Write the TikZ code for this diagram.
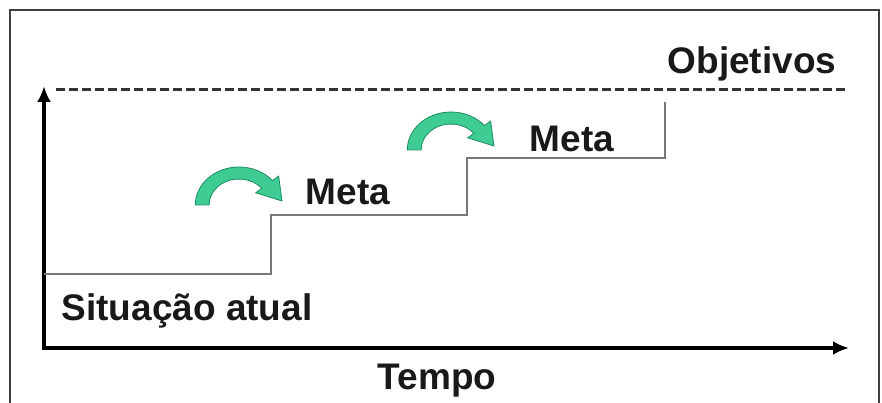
\documentclass[tikz,border=0pt]{standalone}
\usepackage{fontspec}
\setmainfont{Liberation Sans}
\usetikzlibrary{arrows.meta}
\definecolor{stepgray}{RGB}{120,120,120}
\definecolor{arrowgreen}{RGB}{62,204,148}
\definecolor{arrowedge}{RGB}{28,140,96}
\begin{document}
\begin{tikzpicture}[x=1pt,y=-1pt,
  label/.style={font=\fontsize{37}{40}\selectfont\bfseries,text=black!90,inner sep=0pt},
  axis/.style={black,line width=3.5pt,-{Latex[length=16pt,width=14pt]}},
  curvedarrow/.style={fill=arrowgreen,draw=arrowedge,line width=0.8pt}]
\useasboundingbox (0,0) rectangle (882,403);
\draw [black!75, line width=2pt] (10,10) rectangle (879,420);
% axes
\coordinate (origin) at (44,350);
\coordinate (ytop) at (44,86);
\coordinate (xleft) at (42,348);
\coordinate (xright) at (849,348);
\draw [axis] (origin) -- (ytop);
\draw [axis] (xleft) -- (xright);
% goal line
\coordinate (goalstart) at (56,90);
\coordinate (goalend) at (845,90);
\draw [black!80, line width=3pt, dash pattern=on 9pt off 4pt] (goalstart) -- (goalend);
% the steps
\draw [stepgray, line width=2pt] (44,274) -- (271,274) -- (271,215) -- (467,215)
  -- (467,158) -- (665,158) -- (665,102);
% curved arrows
\foreach \cx/\cy in {239/205, 451/150}{
  \begin{scope}[shift={(\cx,\cy)}, xscale=1.15]
    \draw [curvedarrow] (180:38) arc (180:320:38) -- (320:45) -- (37.4,-4)
      -- (320:19) -- (320:26) arc (320:180:26) -- cycle;
  \end{scope}
}
% labels
\node [label] (situacao) at (187,311) {Situação atual};
\node [label] (tempo) at (437,381) {Tempo};
\node [label] (meta1) at (348,192) {Meta};
\node [label] (meta2) at (572,139) {Meta};
\node [label] (objetivos) at (752,64) {Objetivos};
\end{tikzpicture}
\end{document}
